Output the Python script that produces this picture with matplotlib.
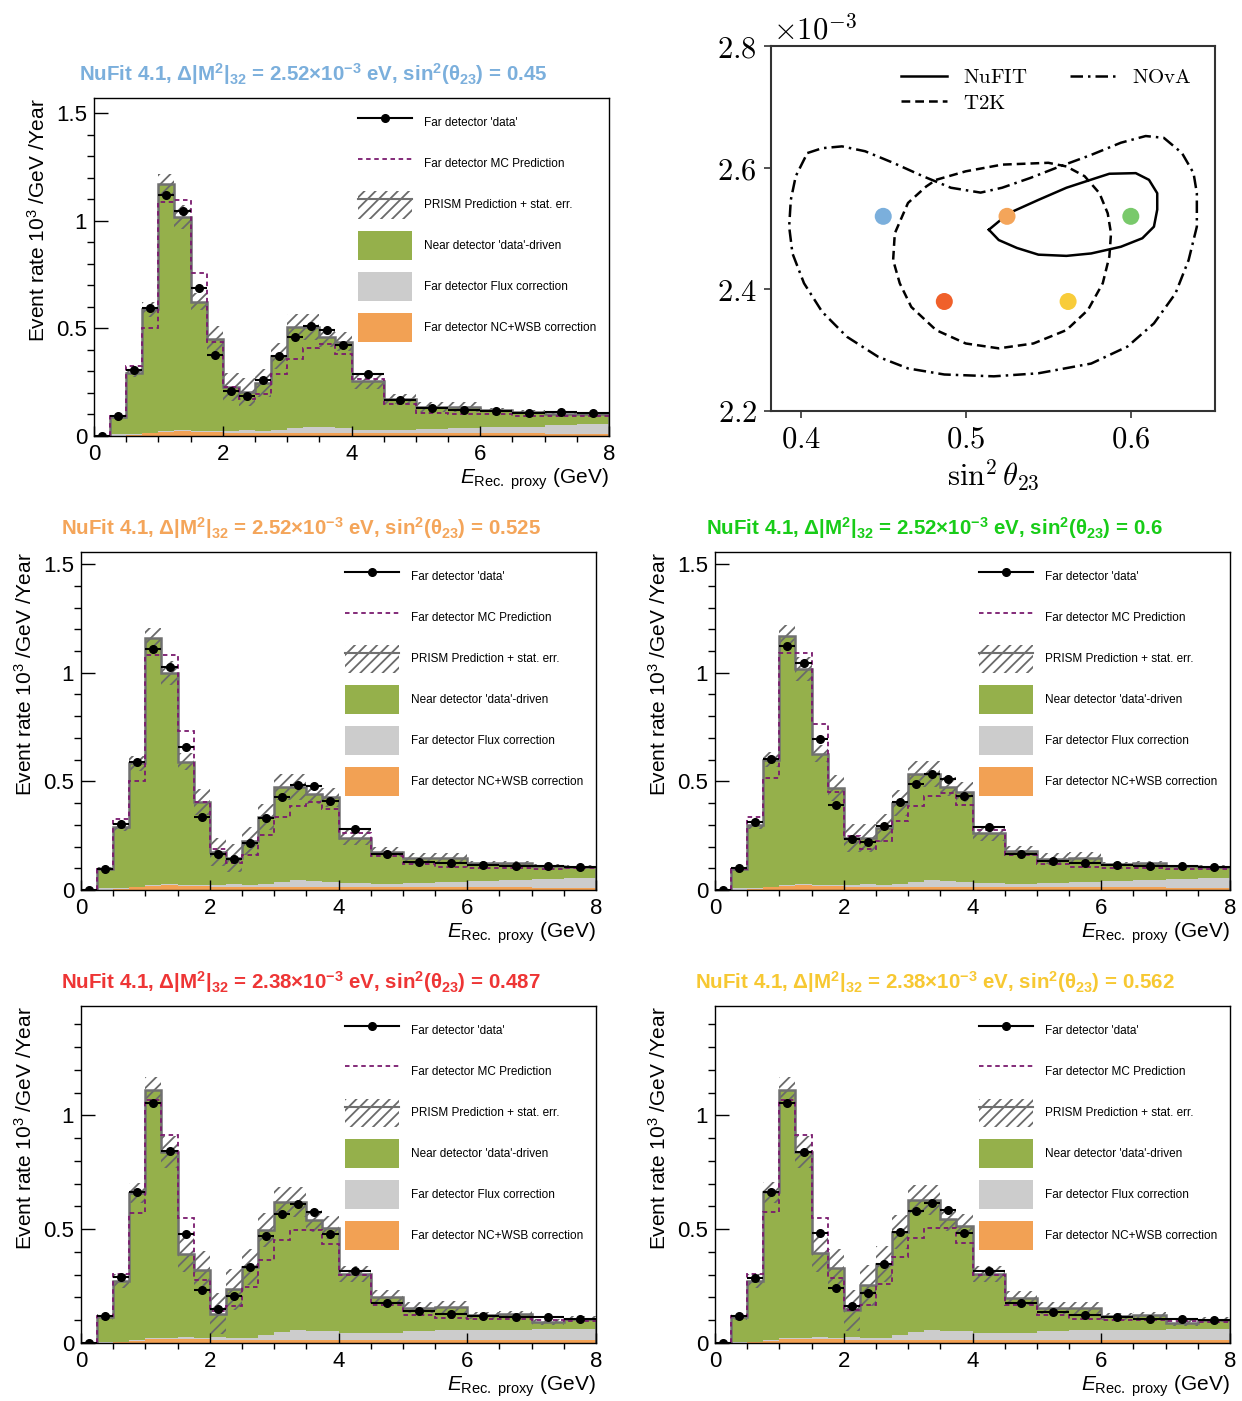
import numpy as np
import matplotlib
matplotlib.use("Agg")
import matplotlib.pyplot as plt
from matplotlib.patches import Patch
from matplotlib.lines import Line2D
from matplotlib.ticker import MultipleLocator, FuncFormatter

plt.rcParams['font.family'] = ['Liberation Sans', 'DejaVu Sans']
plt.rcParams['mathtext.fontset'] = 'custom'
plt.rcParams['mathtext.rm'] = 'Liberation Sans'
plt.rcParams['mathtext.it'] = 'Liberation Sans:italic'
plt.rcParams['mathtext.bf'] = 'Liberation Sans:bold'
plt.rcParams['mathtext.sf'] = 'Liberation Sans'
plt.rcParams['hatch.linewidth'] = 1.3

# ---------------- data ----------------
bin_edges = [0.0, 0.25, 0.5, 0.75, 1.0, 1.25, 1.5, 1.75, 2.0, 2.25, 2.5, 2.75, 3.0,
             3.25, 3.5, 3.75, 4.0, 4.5, 5.0, 5.5, 6.0, 6.5, 7.0, 7.5, 8.0]

# NC+WSB (orange) and flux-correction (grey) components
nc_252 = [0.0, 0.0, 0.003, 0.012, 0.020, 0.024, 0.020, 0.017, 0.015, 0.015, 0.015, 0.015,
          0.016, 0.016, 0.016, 0.016, 0.014, 0.013, 0.013, 0.013, 0.012, 0.012, 0.011, 0.011]
flux_252 = [0.0, 0.008, 0.004, 0.002, 0.002, 0.003, 0.004, 0.006, 0.007, 0.012, 0.006, 0.012,
            0.022, 0.028, 0.025, 0.020, 0.016, 0.016, 0.020, 0.024, 0.030, 0.032, 0.040, 0.044]
nc_238 = [0.0, 0.0, 0.003, 0.010, 0.018, 0.018, 0.017, 0.016, 0.015, 0.015, 0.014, 0.014,
          0.015, 0.015, 0.015, 0.015, 0.014, 0.014, 0.013, 0.013, 0.013, 0.013, 0.012, 0.012]
flux_238 = [0.0, 0.006, 0.003, 0.003, 0.004, 0.006, 0.008, 0.008, 0.010, 0.008, 0.008, 0.022,
            0.032, 0.040, 0.038, 0.036, 0.028, 0.028, 0.040, 0.044, 0.046, 0.046, 0.050, 0.050]

err_252 = [0.0, 0.010, 0.020, 0.035, 0.047, 0.055, 0.040, 0.060, 0.065, 0.065, 0.065, 0.060,
           0.060, 0.060, 0.045, 0.045, 0.035, 0.022, 0.025, 0.025, 0.010, 0.010, 0.008, 0.008]
err_238 = [0.0, 0.012, 0.030, 0.045, 0.060, 0.070, 0.080, 0.080, 0.090, 0.090, 0.080, 0.075,
           0.065, 0.065, 0.050, 0.050, 0.035, 0.030, 0.025, 0.025, 0.015, 0.015, 0.015, 0.010]

# sin^2 = 0.45, dm2 = 2.52e-3
data_045 = [0.0, 0.093, 0.307, 0.593, 1.121, 1.045, 0.688, 0.376, 0.208, 0.185, 0.259, 0.371,
            0.460, 0.509, 0.495, 0.422, 0.286, 0.166, 0.130, 0.123, 0.115, 0.109, 0.112, 0.107]
prism_045 = [0.0, 0.089, 0.293, 0.590, 1.171, 1.019, 0.624, 0.450, 0.227, 0.205, 0.248, 0.371,
             0.505, 0.505, 0.458, 0.438, 0.255, 0.171, 0.135, 0.135, 0.120, 0.112, 0.104, 0.104]
mc_045 = [0.0, 0.093, 0.326, 0.503, 1.087, 1.096, 0.759, 0.438, 0.227, 0.171, 0.197, 0.289,
          0.360, 0.410, 0.427, 0.379, 0.267, 0.151, 0.107, 0.104, 0.100, 0.093, 0.092, 0.092]

# sin^2 = 0.525, dm2 = 2.52e-3
data_0525 = [0.0, 0.097, 0.304, 0.587, 1.111, 1.025, 0.657, 0.338, 0.164, 0.141, 0.217, 0.332,
             0.429, 0.484, 0.479, 0.410, 0.281, 0.164, 0.131, 0.126, 0.115, 0.111, 0.111, 0.108]
prism_0525 = [0.0, 0.095, 0.292, 0.584, 1.158, 1.000, 0.591, 0.406, 0.175, 0.146, 0.227, 0.335,
              0.473, 0.473, 0.441, 0.426, 0.241, 0.177, 0.146, 0.146, 0.123, 0.123, 0.111, 0.108]
mc_0525 = [0.0, 0.097, 0.326, 0.500, 1.080, 1.080, 0.734, 0.407, 0.187, 0.123, 0.161, 0.253,
           0.335, 0.389, 0.407, 0.372, 0.264, 0.157, 0.120, 0.104, 0.103, 0.103, 0.095, 0.100]

# sin^2 = 0.6, dm2 = 2.52e-3
data_06 = [0.0, 0.101, 0.314, 0.605, 1.123, 1.044, 0.697, 0.393, 0.233, 0.219, 0.294, 0.404,
           0.488, 0.532, 0.513, 0.432, 0.292, 0.168, 0.132, 0.124, 0.117, 0.109, 0.110, 0.106]
prism_06 = [0.0, 0.098, 0.300, 0.600, 1.171, 1.019, 0.627, 0.471, 0.241, 0.238, 0.285, 0.401,
            0.533, 0.533, 0.476, 0.451, 0.261, 0.180, 0.145, 0.148, 0.121, 0.124, 0.109, 0.106]
mc_06 = [0.0, 0.098, 0.334, 0.516, 1.093, 1.093, 0.765, 0.451, 0.249, 0.191, 0.227, 0.316,
         0.389, 0.432, 0.445, 0.390, 0.277, 0.160, 0.121, 0.106, 0.103, 0.103, 0.095, 0.098]

# sin^2 = 0.487, dm2 = 2.38e-3
data_0487 = [0.0, 0.120, 0.288, 0.663, 1.054, 0.842, 0.477, 0.233, 0.149, 0.205, 0.332, 0.471,
             0.567, 0.609, 0.575, 0.477, 0.316, 0.177, 0.139, 0.129, 0.120, 0.114, 0.114, 0.107]
prism_0487 = [0.0, 0.114, 0.271, 0.659, 1.110, 0.839, 0.392, 0.322, 0.129, 0.236, 0.334, 0.495,
              0.618, 0.618, 0.539, 0.507, 0.305, 0.202, 0.155, 0.158, 0.122, 0.126, 0.092, 0.107]
mc_0487 = [0.0, 0.120, 0.305, 0.572, 1.069, 0.915, 0.550, 0.275, 0.141, 0.161, 0.246, 0.366,
           0.454, 0.498, 0.495, 0.433, 0.297, 0.165, 0.124, 0.111, 0.107, 0.104, 0.100, 0.097]

# sin^2 = 0.562, dm2 = 2.38e-3
data_0562 = [0.0, 0.118, 0.287, 0.665, 1.056, 0.841, 0.481, 0.243, 0.162, 0.218, 0.346, 0.487,
             0.578, 0.616, 0.584, 0.481, 0.316, 0.175, 0.135, 0.125, 0.115, 0.107, 0.107, 0.101]
prism_0562 = [0.0, 0.115, 0.272, 0.662, 1.110, 0.838, 0.394, 0.331, 0.143, 0.253, 0.346, 0.488,
              0.628, 0.628, 0.544, 0.515, 0.301, 0.199, 0.154, 0.154, 0.118, 0.121, 0.088, 0.103]
mc_0562 = [0.0, 0.118, 0.304, 0.576, 1.069, 0.915, 0.551, 0.284, 0.147, 0.169, 0.257, 0.378,
           0.463, 0.503, 0.503, 0.437, 0.297, 0.166, 0.122, 0.107, 0.103, 0.103, 0.096, 0.093]

legend_labels = ["Far detector 'data'", "Far detector MC Prediction", "PRISM Prediction + stat. err.",
                 "Near detector 'data'-driven", "Far detector Flux correction",
                 "Far detector NC+WSB correction"]

# contour panel data (sin^2 theta23, dm2 in 1e-3 eV^2)
nufit_x = [0.514, 0.526, 0.544, 0.561, 0.579, 0.587, 0.603, 0.611, 0.616, 0.616, 0.614, 0.607,
           0.594, 0.576, 0.561, 0.544, 0.531, 0.520]
nufit_y = [2.498, 2.525, 2.547, 2.567, 2.583, 2.590, 2.591, 2.580, 2.558, 2.531, 2.503, 2.484,
           2.470, 2.459, 2.455, 2.457, 2.468, 2.481]
t2k_x = [0.482, 0.500, 0.522, 0.550, 0.561, 0.572, 0.581, 0.586, 0.588, 0.587, 0.583, 0.574,
         0.561, 0.541, 0.520, 0.500, 0.482, 0.467, 0.460, 0.456, 0.457, 0.465, 0.476]
t2k_y = [2.580, 2.594, 2.605, 2.608, 2.602, 2.586, 2.558, 2.525, 2.492, 2.454, 2.410, 2.366,
         2.333, 2.311, 2.303, 2.311, 2.333, 2.371, 2.410, 2.448, 2.492, 2.542, 2.569]
nova_x = [0.404, 0.413, 0.425, 0.439, 0.456, 0.474, 0.491, 0.509, 0.522, 0.539, 0.557, 0.576,
          0.594, 0.609, 0.620, 0.631, 0.638, 0.640, 0.640, 0.635, 0.627, 0.614, 0.598, 0.576,
          0.544, 0.517, 0.487, 0.465, 0.447, 0.428, 0.413, 0.402, 0.395, 0.393, 0.394, 0.397]
nova_y = [2.624, 2.632, 2.635, 2.627, 2.608, 2.586, 2.567, 2.559, 2.567, 2.583, 2.602, 2.621,
          2.641, 2.652, 2.649, 2.624, 2.591, 2.558, 2.503, 2.448, 2.393, 2.344, 2.306, 2.278,
          2.262, 2.257, 2.260, 2.270, 2.289, 2.322, 2.363, 2.410, 2.459, 2.503, 2.547, 2.586]
point_sin2 = [0.45, 0.525, 0.6, 0.487, 0.562]
point_dm2 = [2.52, 2.52, 2.52, 2.38, 2.38]
point_colors = ['#7bafdc', '#f4a55a', '#79c96b', '#f0602a', '#f8cc3a']

# ---------------- styles ----------------
GREEN = '#95b04b'
GREYF = '#cccccc'
ORANGE = '#f2a154'
PURPLE = '#7a1a6e'
HATCH = '#6a6a6a'
LINEGREY = '#707070'

W, H = 1242, 1401
fig = plt.figure(figsize=(W / 100, H / 100), dpi=100)


def ax_px(left, top, right, bottom):
    return fig.add_axes([left / W, 1 - bottom / H, (right - left) / W, (bottom - top) / H])


def hist_panel(box, data, prism, mc, err, nc, flux, ymax, title, tcolor):
    left, top, right, bottom = box
    ax = ax_px(left, top, right, bottom)
    edges = np.array(bin_edges)
    data = np.array(data); prism = np.array(prism); mc = np.array(mc)
    err = np.array(err); nc = np.array(nc); flux = np.array(flux)
    ncf = np.minimum(nc, prism)
    fl = np.minimum(nc + flux, prism)
    ax.stairs(ncf, edges, baseline=0, fill=True, color=ORANGE, lw=0)
    ax.stairs(fl, edges, baseline=ncf, fill=True, color=GREYF, lw=0)
    ax.stairs(prism, edges, baseline=fl, fill=True, color=GREEN, lw=0)
    ax.stairs(prism + err, edges, baseline=prism - err, fill=True, facecolor='none',
              edgecolor=HATCH, hatch='///', lw=0)
    ax.stairs(prism, edges, baseline=0, color=LINEGREY, lw=1.8)
    ax.stairs(mc, edges, baseline=None, color=PURPLE, lw=1.3, ls=(0, (2.5, 2)))
    centers = 0.5 * (edges[1:] + edges[:-1])
    halfw = 0.5 * (edges[1:] - edges[:-1])
    ax.errorbar(centers, data, xerr=halfw, fmt='o', color='black', ms=5.5, lw=1.5, capsize=0)
    ax.set_xlim(0, 8)
    ax.set_ylim(0, ymax)
    ax.xaxis.set_major_locator(MultipleLocator(2))
    ax.xaxis.set_minor_locator(MultipleLocator(0.5))
    ax.yaxis.set_major_locator(MultipleLocator(0.5))
    ax.yaxis.set_minor_locator(MultipleLocator(0.1))
    fmt = FuncFormatter(lambda v, p: '%g' % v)
    ax.xaxis.set_major_formatter(fmt)
    ax.yaxis.set_major_formatter(fmt)
    ax.tick_params(axis='both', direction='in', top=False, right=False, labelsize=16, width=1)
    ax.tick_params(axis='y', which='major', length=10, pad=5)
    ax.tick_params(axis='y', which='minor', length=5, width=1)
    ax.tick_params(axis='x', which='major', length=7.5, pad=6)
    ax.tick_params(axis='x', which='minor', length=4, width=1)
    for s in ax.spines.values():
        s.set_linewidth(1.0)
    ax.set_ylabel("Event rate 10$^{3}$ /GeV /Year", fontsize=15, loc='top')
    ax.yaxis.set_label_coords(-0.088, 1.0)
    ax.set_xlabel(r"$E_{\mathrm{Rec.\ proxy}}$ (GeV)", fontsize=15, loc='right')
    ax.xaxis.set_label_coords(1.0, -0.09)
    handles = [
        Line2D([], [], color='black', lw=1.5, marker='o', ms=5.5),
        Line2D([], [], color=PURPLE, lw=1.3, ls=(0, (2.5, 2))),
        (Patch(facecolor='white', edgecolor=HATCH, hatch='///', lw=0),
         Line2D([], [], color=LINEGREY, lw=1.5)),
        Patch(facecolor=GREEN, edgecolor='none'),
        Patch(facecolor=GREYF, edgecolor='none'),
        Patch(facecolor=ORANGE, edgecolor='none'),
    ]
    ax.legend(handles, legend_labels, loc='upper left', bbox_to_anchor=(0.512, 0.968),
              frameon=False, fontsize=8.5, handlelength=4.6, handleheight=3.35,
              labelspacing=1.04, handletextpad=1.0, borderpad=0, borderaxespad=0)
    cx = (left + right) / 2 - 38
    fig.text(cx / W, 1 - (top - 17) / H, title, color=tcolor, fontsize=14.8,
             fontweight='bold', ha='center', va='baseline')
    return ax


def make_title(dm, s2):
    return ("NuFit 4.1, Δ|M$^{\\mathbf{2}}$|$_{\\mathbf{32}}$ = " + dm +
            "×10$^{\\mathbf{-3}}$ eV, sin$^{\\mathbf{2}}$(θ$_{\\mathbf{23}}$) = " + s2)


hist_panel((94, 98, 609, 436), data_045, prism_045, mc_045, err_252, nc_252, flux_252, 1.571,
           make_title("2.52", "0.45"), '#7bafdc')
hist_panel((81, 552, 596, 890), data_0525, prism_0525, mc_0525, err_252, nc_252, flux_252, 1.556,
           make_title("2.52", "0.525"), '#f4a55a')
hist_panel((715, 552, 1230, 890), data_06, prism_06, mc_06, err_252, nc_252, flux_252, 1.556,
           make_title("2.52", "0.6"), '#18cc18')
hist_panel((81, 1006, 596, 1343), data_0487, prism_0487, mc_0487, err_238, nc_238, flux_238, 1.48,
           make_title("2.38", "0.487"), '#ee3535')
hist_panel((715, 1006, 1230, 1343), data_0562, prism_0562, mc_0562, err_238, nc_238, flux_238, 1.48,
           make_title("2.38", "0.562"), '#f7c832')

# ---------------- contour panel ----------------
axc = ax_px(771, 46, 1215, 411)
lw_c = 1.8
axc.plot(nufit_x + nufit_x[:1], nufit_y + nufit_y[:1], color='black', lw=lw_c, ls='-', label='NuFIT')
axc.plot(t2k_x + t2k_x[:1], t2k_y + t2k_y[:1], color='black', lw=lw_c, ls=(0, (3.5, 2)), label='T2K')
axc.plot(nova_x + nova_x[:1], nova_y + nova_y[:1], color='black', lw=lw_c,
         ls=(0, (5, 2, 1, 2)), label='NOvA')
axc.scatter(point_sin2, point_dm2, s=150, c=point_colors, zorder=5, linewidths=0)
axc.set_xlim(0.382, 0.651)
axc.set_ylim(2.2, 2.8)
axc.set_xticks([0.4, 0.5, 0.6], labels=['$0.4$', '$0.5$', '$0.6$'])
axc.set_yticks([2.2, 2.4, 2.6, 2.8], labels=['$2.2$', '$2.4$', '$2.6$', '$2.8$'])
axc.tick_params(direction='out', length=5, width=1.2, labelsize=22, pad=5, color='#333333')
for lbl in axc.get_xticklabels() + axc.get_yticklabels():
    lbl.set_math_fontfamily('cm')
for s in axc.spines.values():
    s.set_linewidth(1.5)
    s.set_color('#333333')
xl = axc.set_xlabel(r'$\sin^2\theta_{23}$', fontsize=22, labelpad=2)
xl.set_math_fontfamily('cm')
off = axc.text(0.005, 1.0, r'$\times10^{-3}$', transform=axc.transAxes, fontsize=22,
               ha='left', va='bottom')
off.set_math_fontfamily('cm')
legc = axc.legend(loc='upper right', ncol=2, frameon=False, fontsize=15, handlelength=2.2,
                  columnspacing=2.0, handletextpad=0.8, labelspacing=0.3,
                  bbox_to_anchor=(0.99, 0.99))
for t, name in zip(legc.get_texts(), ['NuFIT', 'T2K', 'NOvA']):
    t.set_text(r'$\mathrm{' + name + '}$')
    t.set_math_fontfamily('cm')

fig.savefig('out.png', dpi=100)
